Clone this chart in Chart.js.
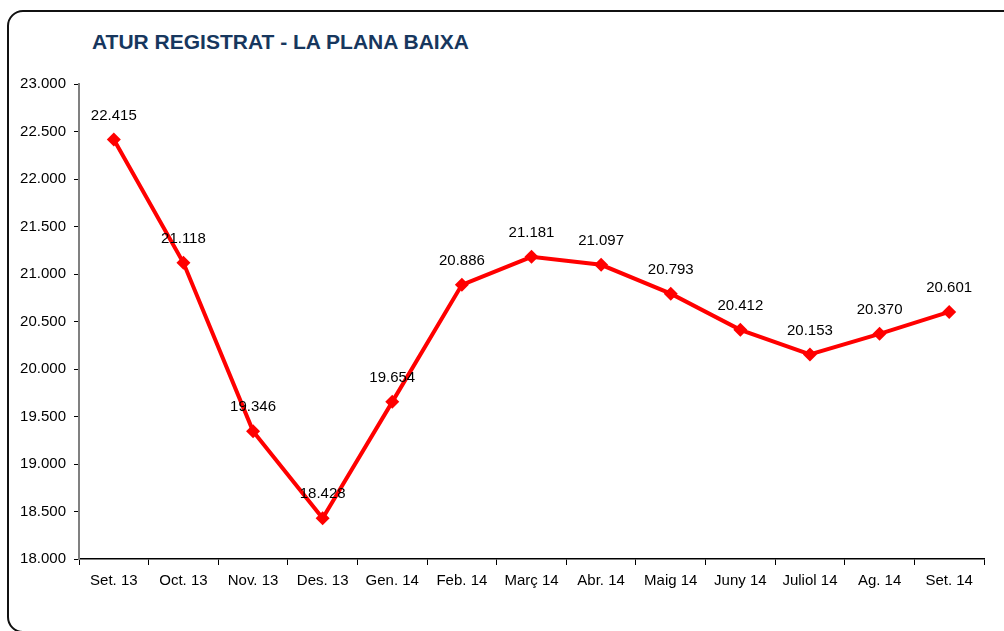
<!DOCTYPE html>
<html>
<head>
<meta charset="utf-8">
<script src="https://cdn.jsdelivr.net/npm/chart.js@4"></script>
<style>
  html, body { margin: 0; padding: 0; background: #fff; overflow: hidden; }
  #wrap { position: relative; width: 1004px; height: 631px; }
  #frame {
    position: absolute; left: 7px; top: 10px; width: 1020px; height: 623px;
    border: 2px solid #111; border-radius: 16px; box-sizing: border-box;
  }
  #title {
    position: absolute; left: 92px; top: 30px; line-height: 24px;
    font: bold 21px "Liberation Sans", Arial, sans-serif; color: #17375e;
  }
  #chart { position: absolute; left: 0; top: 0; }
</style>
</head>
<body>
<div id="wrap">
  <div id="frame"></div>
  <div id="title">ATUR REGISTRAT - LA PLANA BAIXA</div>
  <canvas id="chart" width="1004" height="631"></canvas>
</div>
<script>
// chart data
const months = ['Set. 13', 'Oct. 13', 'Nov. 13', 'Des. 13', 'Gen. 14', 'Feb. 14', 'Març 14',
                'Abr. 14', 'Maig 14', 'Juny 14', 'Juliol 14', 'Ag. 14', 'Set. 14'];
const unemployed = [22415, 21118, 19346, 18428, 19654, 20886, 21181, 21097, 20793, 20412, 20153, 20370, 20601];
const yMin = 18000;
const yMax = 23000;
const yStep = 500;

const FONT = '"Liberation Sans", Arial, sans-serif';

// 22415 -> "22.415"
function fmt(v) {
    return String(Math.round(v)).replace(/\B(?=(\d{3})+(?!\d))/g, '.');
}

// value labels above each point
const pointLabels = {
    id: 'pointLabels',
    afterDatasetsDraw(chart) {
        const c = chart.ctx;
        const meta = chart.getDatasetMeta(0);
        c.save();
        c.font = '15px ' + FONT;
        c.fillStyle = '#000';
        c.textAlign = 'center';
        c.textBaseline = 'middle';
        meta.data.forEach((pt, i) => {
            c.fillText(fmt(chart.data.datasets[0].data[i]), pt.x, pt.y - 24);
        });
        c.restore();
    }
};

const ctx = document.getElementById('chart').getContext('2d');
new Chart(ctx, {
    type: 'line',
    data: {
        labels: months,
        datasets: [{
            data: unemployed,
            borderColor: '#ff0000',
            backgroundColor: '#ff0000',
            borderWidth: 4,
            pointStyle: 'rectRot',
            pointRadius: 7,
            pointBorderWidth: 0,
            tension: 0,
            fill: false
        }]
    },
    options: {
        responsive: false,
        animation: false,
        layout: { padding: { top: 84, right: 20, bottom: 0, left: 0 } },
        plugins: { legend: { display: false }, tooltip: { enabled: false } },
        scales: {
            x: {
                offset: true,
                afterFit: s => { s.height = 72; },
                grid: { offset: true, drawOnChartArea: false, tickLength: 6, color: '#000', lineWidth: 1 },
                border: { color: '#000', width: 1.5 },
                ticks: { color: '#000', font: { family: FONT, size: 15 }, padding: 7, maxRotation: 0, autoSkip: false }
            },
            y: {
                min: yMin, max: yMax,
                afterFit: s => { s.width = 79; },
                grid: { drawOnChartArea: false, tickLength: 5, color: '#000' },
                border: { color: '#808080', width: 2 },
                ticks: { stepSize: yStep, color: '#000', font: { family: FONT, size: 15 }, padding: 8, callback: v => fmt(v) }
            }
        }
    },
    plugins: [pointLabels]
});
</script>
</body>
</html>
